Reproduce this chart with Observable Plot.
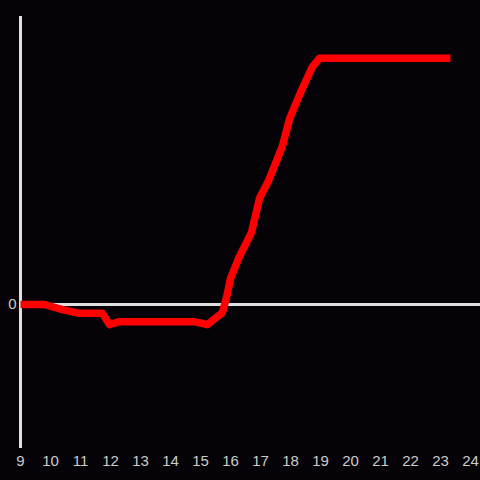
<!DOCTYPE html>
<html>
<head>
<meta charset="utf-8">
<script src="https://cdn.jsdelivr.net/npm/d3@7"></script>
<script src="https://cdn.jsdelivr.net/npm/@observablehq/plot@0.6"></script>
<style>
html,body{margin:0;padding:0;background:#050308;}
#chart{width:480px;height:480px;}
</style>
</head>
<body>
<div id="chart"></div>
<script>
const hours = [9, 9.8, 10.4, 10.93, 11.73, 11.97, 12.27, 14.83, 15.23, 15.73, 15.87, 16.0, 16.27, 16.7, 16.97, 17.27, 17.73, 17.97, 18.33, 18.73, 18.97, 23.33];
const values = [0, 0, -0.035, -0.06, -0.06, -0.14, -0.12, -0.12, -0.14, -0.056, 0.05, 0.18, 0.32, 0.5, 0.74, 0.86, 1.1, 1.29, 1.47, 1.65, 1.71, 1.71];
const xTicks = [9, 10, 11, 12, 13, 14, 15, 16, 17, 18, 19, 20, 21, 22, 23, 24];
const yTicks = [0];

const data = hours.map((h, i) => ({hour: h, value: values[i]}));

const chart = Plot.plot({
  width: 480,
  height: 480,
  marginLeft: 20,
  marginRight: 0,
  marginTop: 16,
  marginBottom: 32,
  style: {background: "#050308", color: "#cccccc", fontFamily: "Liberation Sans, Arial, sans-serif", fontSize: "15px"},
  x: {domain: [9, 24.3333], ticks: xTicks, tickSize: 0, tickPadding: 7, tickFormat: d => String(d), label: null},
  y: {domain: [-1, 2], ticks: yTicks, tickSize: 0, tickPadding: 4, tickFormat: d => String(d), label: null},
  marks: [
    Plot.ruleY([0], {stroke: "#e0e0e0", strokeWidth: 3}),
    Plot.ruleX([9], {stroke: "#e0e0e0", strokeWidth: 3}),
    Plot.line(data, {x: "hour", y: "value", stroke: "#ff0000", strokeWidth: 7.5, strokeLinejoin: "round", strokeLinecap: "butt"})
  ]
});
document.getElementById("chart").appendChild(chart);
</script>
</body>
</html>
